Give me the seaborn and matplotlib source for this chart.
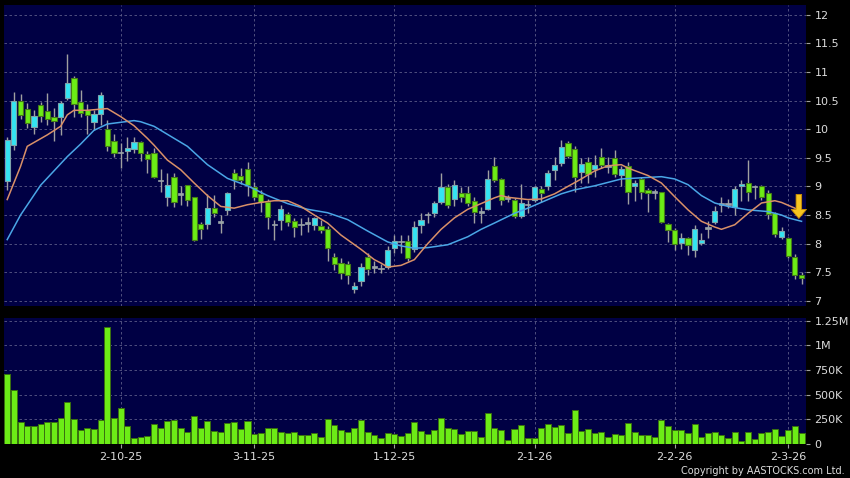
import numpy as np
import pandas as pd
import matplotlib
matplotlib.use('Agg')
import matplotlib.pyplot as plt
import seaborn as sns

opens = [9.10, 9.72, 10.50, 10.35, 10.04, 10.43, 10.32, 10.22, 10.21, 10.54,
         10.89, 10.47, 10.34, 10.13, 10.27, 10.01, 9.80, 9.59, 9.62, 9.66,
         9.77, 9.56, 9.59, 9.10, 8.81, 9.16, 8.87, 9.02, 8.81, 8.34,
         8.34, 8.62, 8.38, 8.59, 9.24, 9.19, 9.30, 8.99, 8.87, 8.72,
         8.33, 8.42, 8.52, 8.40, 8.33, 8.36, 8.32, 8.30, 8.25, 7.77,
         7.67, 7.65, 7.20, 7.34, 7.77, 7.59, 7.57, 7.60, 7.93, 8.04,
         8.04, 7.90, 8.32, 8.51, 8.53, 8.72, 8.99, 8.78, 8.89, 8.88,
         8.74, 8.55, 8.60, 9.36, 9.13, 8.80, 8.77, 8.48, 8.68, 8.77,
         8.96, 9.01, 9.29, 9.41, 9.75, 9.65, 9.25, 9.42, 9.30, 9.52,
         9.36, 9.50, 9.20, 9.36, 9.00, 9.13, 8.93, 8.90, 8.90, 8.35,
         8.24, 8.01, 8.10, 7.88, 8.01, 8.27, 8.38, 8.69, 8.69, 8.64,
         9.00, 9.06, 9.00, 9.00, 8.89, 8.53, 8.11, 8.09, 7.77, 7.46]
highs = [9.86, 10.65, 10.62, 10.45, 10.34, 10.48, 10.63, 10.37, 10.50, 11.32,
         10.93, 10.68, 10.44, 10.34, 10.65, 10.16, 9.92, 9.75, 9.87, 9.87,
         9.79, 9.61, 9.67, 9.30, 9.24, 9.24, 9.00, 9.02, 8.81, 8.38,
         8.87, 8.85, 8.50, 8.91, 9.30, 9.33, 9.43, 9.08, 8.94, 8.78,
         8.41, 8.68, 8.56, 8.44, 8.44, 8.47, 8.47, 8.41, 8.30, 7.84,
         7.75, 7.70, 7.33, 7.67, 7.83, 7.69, 7.65, 7.95, 8.15, 8.15,
         8.15, 8.39, 8.53, 8.56, 8.74, 9.23, 9.04, 9.11, 8.99, 9.00,
         8.82, 8.64, 9.29, 9.52, 9.14, 8.85, 8.80, 9.04, 8.76, 9.01,
         9.00, 9.29, 9.52, 9.81, 9.80, 9.70, 9.49, 9.51, 9.55, 9.67,
         9.51, 9.63, 9.35, 9.43, 9.11, 9.16, 8.97, 8.96, 8.90, 8.36,
         8.27, 8.19, 8.12, 8.33, 8.18, 8.39, 8.65, 8.82, 8.78, 9.00,
         9.11, 9.46, 9.03, 9.03, 8.93, 8.56, 8.29, 8.12, 7.82, 7.50]
lows = [8.94, 9.64, 10.17, 10.02, 9.92, 10.13, 10.08, 9.79, 9.90, 10.51,
        10.22, 10.22, 9.92, 9.98, 10.07, 9.61, 9.52, 9.32, 9.45, 9.58,
        9.45, 9.24, 9.14, 8.91, 8.65, 8.64, 8.68, 8.66, 8.04, 8.08,
        8.26, 8.47, 8.18, 8.50, 8.95, 9.05, 8.84, 8.76, 8.56, 8.25,
        8.06, 8.24, 8.30, 8.12, 8.15, 8.21, 8.23, 8.18, 7.69, 7.54,
        7.39, 7.30, 7.13, 7.26, 7.45, 7.48, 7.48, 7.55, 7.83, 7.83,
        7.70, 7.86, 8.18, 8.36, 8.46, 8.70, 8.62, 8.66, 8.72, 8.65,
        8.36, 8.36, 8.58, 9.08, 8.68, 8.73, 8.44, 8.44, 8.53, 8.73,
        8.72, 8.93, 9.12, 9.36, 9.49, 8.90, 9.06, 9.06, 9.17, 9.32,
        9.24, 9.17, 9.00, 8.70, 8.75, 8.78, 8.56, 8.78, 8.36, 8.02,
        7.89, 7.90, 7.80, 7.76, 7.98, 8.09, 8.34, 8.56, 8.62, 8.50,
        8.75, 8.74, 8.78, 8.77, 8.43, 8.11, 8.08, 7.75, 7.39, 7.30]
closes = [9.81, 10.50, 10.25, 10.10, 10.23, 10.23, 10.18, 10.14, 10.45, 10.81,
          10.44, 10.29, 10.25, 10.26, 10.60, 9.71, 9.59, 9.59, 9.67, 9.77,
          9.58, 9.48, 9.17, 9.10, 9.02, 8.72, 8.87, 8.76, 8.06, 8.26,
          8.62, 8.53, 8.38, 8.88, 9.11, 9.11, 9.03, 8.81, 8.73, 8.46,
          8.33, 8.61, 8.37, 8.29, 8.33, 8.36, 8.44, 8.24, 7.92, 7.65,
          7.49, 7.45, 7.26, 7.59, 7.55, 7.59, 7.57, 7.89, 8.04, 8.04,
          7.75, 8.29, 8.41, 8.51, 8.71, 8.99, 8.68, 9.02, 8.81, 8.71,
          8.55, 8.55, 9.13, 9.12, 8.76, 8.80, 8.48, 8.71, 8.68, 8.99,
          8.88, 9.23, 9.37, 9.69, 9.53, 9.16, 9.39, 9.22, 9.38, 9.38,
          9.36, 9.22, 9.30, 8.91, 9.06, 8.91, 8.88, 8.90, 8.38, 8.23,
          7.99, 8.09, 7.97, 8.25, 8.07, 8.27, 8.57, 8.69, 8.69, 8.96,
          9.05, 8.91, 9.00, 8.82, 8.52, 8.16, 8.22, 7.79, 7.46, 7.40]
volume = [0.71, 0.55, 0.22, 0.187, 0.187, 0.20, 0.223, 0.227, 0.263, 0.43,
          0.25, 0.14, 0.167, 0.157, 0.243, 1.183, 0.26, 0.367, 0.187, 0.06,
          0.067, 0.083, 0.203, 0.167, 0.233, 0.243, 0.163, 0.117, 0.28, 0.16,
          0.233, 0.133, 0.123, 0.21, 0.227, 0.153, 0.23, 0.10, 0.113, 0.16,
          0.16, 0.12, 0.11, 0.12, 0.093, 0.093, 0.113, 0.073, 0.25, 0.193,
          0.143, 0.117, 0.163, 0.243, 0.12, 0.09, 0.063, 0.113, 0.103, 0.083,
          0.113, 0.22, 0.13, 0.10, 0.143, 0.26, 0.163, 0.153, 0.097, 0.133,
          0.13, 0.073, 0.313, 0.163, 0.147, 0.043, 0.153, 0.19, 0.057, 0.063,
          0.163, 0.20, 0.173, 0.19, 0.113, 0.34, 0.133, 0.157, 0.113, 0.12,
          0.067, 0.10, 0.09, 0.21, 0.123, 0.087, 0.09, 0.07, 0.243, 0.18,
          0.143, 0.137, 0.113, 0.20, 0.067, 0.11, 0.123, 0.087, 0.063, 0.117,
          0.033, 0.117, 0.053, 0.107, 0.123, 0.153, 0.083, 0.137, 0.183, 0.113]

ma_short_idx = [0, 2, 3, 6, 8, 9, 10, 12, 15, 17, 19, 21, 22, 24, 26, 28, 30, 32,
                34, 36, 38, 40, 42, 44, 46, 48, 50, 53, 55, 56, 57, 59, 61, 63,
                65, 67, 69, 71, 73, 74, 75, 78, 80, 82, 84, 86, 88, 90, 92, 93,
                96, 98, 100, 102, 104, 106, 107, 109, 111, 113, 115, 116, 118, 119]
ma_short = [8.77, 9.35, 9.70, 9.90, 10.05, 10.25, 10.33, 10.33, 10.36, 10.22,
            10.06, 9.84, 9.72, 9.46, 9.29, 9.06, 8.84, 8.65, 8.62, 8.68, 8.72,
            8.75, 8.75, 8.65, 8.50, 8.36, 8.15, 7.90, 7.72, 7.66, 7.59, 7.62,
            7.72, 8.00, 8.25, 8.45, 8.60, 8.70, 8.80, 8.84, 8.81, 8.77, 8.78,
            8.87, 9.00, 9.13, 9.27, 9.36, 9.38, 9.32, 9.19, 9.06, 8.82, 8.59,
            8.39, 8.29, 8.25, 8.33, 8.53, 8.71, 8.75, 8.72, 8.62, 8.50]
ma_long_idx = [0, 2, 5, 7, 9, 11, 13, 15, 17, 19, 20, 22, 24, 27, 30, 33, 36, 39,
               42, 45, 48, 51, 54, 57, 59, 61, 63, 66, 69, 71, 73, 76, 78, 80,
               83, 85, 88, 90, 92, 95, 98, 100, 102, 104, 106, 108, 111, 114,
               116, 117, 119]
ma_long = [8.07, 8.50, 9.02, 9.27, 9.52, 9.74, 9.98, 10.09, 10.12, 10.15, 10.13,
           10.05, 9.91, 9.70, 9.38, 9.14, 9.01, 8.84, 8.70, 8.60, 8.54, 8.42,
           8.22, 8.03, 7.96, 7.92, 7.93, 7.98, 8.12, 8.25, 8.36, 8.53, 8.62,
           8.72, 8.87, 8.94, 9.01, 9.07, 9.13, 9.15, 9.17, 9.13, 9.03, 8.84,
           8.71, 8.65, 8.59, 8.56, 8.50, 8.45, 8.39]

date_idx = [17, 37, 58, 79, 100, 117]
date_labels = ['2-10-25', '3-11-25', '1-12-25', '2-1-26', '2-2-26', '2-3-26']
price_ticks = [7, 7.5, 8, 8.5, 9, 9.5, 10, 10.5, 11, 11.5, 12]
vol_ticks = [0, 0.25, 0.5, 0.75, 1.0, 1.25]
vol_labels = ['0', '250K', '500K', '750K', '1M', '1.25M']

df = pd.DataFrame({'day': np.arange(len(closes)), 'open': opens, 'high': highs,
                   'low': lows, 'close': closes, 'volume': volume})

bg = '#000044'
grid_kw = dict(color='#5c5c88', lw=0.6, ls=(0, (3, 3)))
text_col = '#dcdcdc'
up_fill, up_edge = '#33e4f2', '#7da4ac'
dn_fill, dn_edge = '#6cec16', '#467c18'
doji_col = '#9aa4a8'

fig = plt.figure(figsize=(8.5, 4.78), dpi=100, facecolor='black')
ax = fig.add_axes([4 / 850, 1 - 306 / 478, 802 / 850, 301 / 478], facecolor=bg)
axv = fig.add_axes([4 / 850, 1 - 444 / 478, 802 / 850, 126 / 478], facecolor=bg)

# candles
ax.vlines(df['day'], df['low'], df['high'], color='#a0a0a0', lw=1, zorder=2)
up = df[df['close'] > df['open']]
dn = df[df['close'] < df['open']]
dj = df[df['close'] == df['open']]
ax.bar(up['day'], up['close'] - up['open'], bottom=up['open'], width=0.78,
       color=up_fill, edgecolor=up_edge, lw=0.8, zorder=3)
ax.bar(dn['day'], dn['open'] - dn['close'], bottom=dn['close'], width=0.78,
       color=dn_fill, edgecolor=dn_edge, lw=0.8, zorder=3)
ax.bar(dj['day'], 0.025, bottom=dj['open'] - 0.0125, width=0.78,
       color=doji_col, edgecolor=doji_col, lw=0.5, zorder=3)

ma_s = pd.DataFrame({'day': ma_short_idx, 'ma': ma_short})
ma_l = pd.DataFrame({'day': ma_long_idx, 'ma': ma_long})
sns.lineplot(data=ma_l, x='day', y='ma', ax=ax, color='#4aa6e6', lw=1.1, zorder=4)
sns.lineplot(data=ma_s, x='day', y='ma', ax=ax, color='#d99068', lw=1.1, zorder=4)

ax.annotate('', xy=(118.6, 8.44), xytext=(118.6, 8.86),
            arrowprops=dict(width=4, headwidth=11, headlength=6.5,
                            facecolor='#f6c420', edgecolor='#c98c00', lw=0.6, shrink=0),
            zorder=6)

ax.set_xlim(-0.48, 119.67)
ax.set_ylim(6.91, 12.17)
ax.set_xticks(date_idx)
ax.set_xticklabels([])
ax.tick_params(axis='x', length=0)
ax.yaxis.tick_right()
ax.set_yticks(price_ticks)
ax.set_yticklabels([f'{t:g}' for t in price_ticks])
ax.tick_params(axis='y', colors='#a0a0a0', labelcolor=text_col, labelsize=8,
               length=3, pad=3, width=0.8)
ax.grid(True, **grid_kw)
ax.set_axisbelow(True)
ax.set_xlabel('')
ax.set_ylabel('')

# volume
sns.barplot(data=df, x='day', y='volume', ax=axv, color=dn_fill, saturation=1,
            width=0.9, edgecolor='#3a7010', linewidth=0.7, zorder=3)
axv.set_xlim(-0.48, 119.67)
axv.set_ylim(0, 1.278)
axv.set_xticks(date_idx)
axv.set_xticklabels(date_labels)
axv.yaxis.tick_right()
axv.set_yticks(vol_ticks)
axv.set_yticklabels(vol_labels)
axv.tick_params(axis='both', colors='#a0a0a0', labelcolor=text_col, labelsize=8,
                length=3, pad=3, width=0.8)
axv.grid(True, **grid_kw)
axv.set_axisbelow(True)
axv.set_xlabel('')
axv.set_ylabel('')

for a in (ax, axv):
    for s in a.spines.values():
        s.set_visible(False)

fig.text(0.994, 0.004, 'Copyright by AASTOCKS.com Ltd.', ha='right', va='bottom',
         fontsize=7, color=text_col)

fig.savefig('out.png', dpi=100, facecolor='black')
